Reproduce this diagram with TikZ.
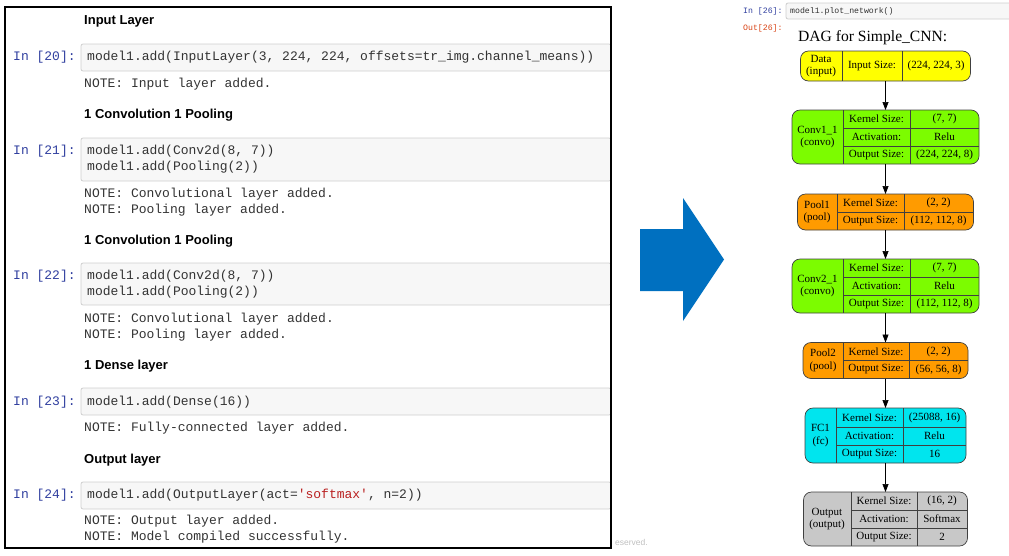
\documentclass[tikz,border=0pt]{standalone}
\usepackage{fontspec}
\usepackage{xcolor}
\usepackage{tikz}
\usetikzlibrary{arrows.meta}
\newfontfamily\codefont{Liberation Mono}[Ligatures=TeXOff]
\newfontfamily\headfont{Liberation Sans}
\newfontfamily\dagfont{Liberation Serif}
\definecolor{PromptBlue}{RGB}{48,63,159}
\definecolor{PromptRed}{RGB}{216,67,21}
\definecolor{CellFill}{RGB}{247,247,247}
\definecolor{CellLine}{RGB}{207,207,207}
\definecolor{StringRed}{RGB}{186,33,33}
\definecolor{ArrowBlue}{RGB}{0,112,192}
\definecolor{InputYellow}{RGB}{255,255,0}
\definecolor{ConvGreen}{RGB}{124,252,0}
\definecolor{PoolOrange}{RGB}{255,155,0}
\definecolor{DenseCyan}{RGB}{0,229,238}
\definecolor{OutputGray}{RGB}{200,200,200}

\begin{document}
\begin{tikzpicture}[x=1pt,y=-1pt,>={Triangle[length=8pt,width=6pt]},
  heading/.style={anchor=west,inner sep=0pt,text height=9.4pt,text depth=0pt,font=\fontsize{13}{15}\headfont\bfseries},
  prompt/.style={anchor=west,inner sep=0pt,text=PromptBlue,font=\fontsize{13}{16}\codefont},
  codeline/.style={anchor=west,inner sep=0pt,align=left,text=black!80,font=\fontsize{13}{16}\codefont},
  cellbox/.style={draw=CellLine,fill=CellFill,rounded corners=2pt,line width=0.8pt},
  layerbox/.style={draw=black!75,rounded corners=8pt,line width=0.7pt,inner sep=0pt,outer sep=0pt},
  grid/.style={draw=black!75,line width=0.6pt},
  field/.style={inner sep=0pt,align=center,font=\fontsize{11}{12.5}\dagfont}]
  \useasboundingbox (0,0) rectangle (1009,555);

  % notebook cells
  \draw[cellbox] (81,44) rectangle (611,71);
  \draw[cellbox] (81,138) rectangle (611,181);
  \draw[cellbox] (81,263) rectangle (611,305);
  \draw[cellbox] (81,388) rectangle (611,415);
  \draw[cellbox] (81,482) rectangle (611,509);
  \draw[line width=1.3pt] (5,7) rectangle (611,548);

  \node[heading] (h1) at (84,20) {Input Layer};
  \node[prompt] (p20) at (13,57.5) {In [20]:};
  \node[codeline] (c20) at (87,57.5) {model1.add(InputLayer(3, 224, 224, offsets=tr\_img.channel\_means))};
  \node[codeline] (n20) at (84,84.5) {NOTE: Input layer added.};

  \node[heading] (h2) at (84,114) {1 Convolution 1 Pooling};
  \node[prompt] (p21) at (13,151.5) {In [21]:};
  \node[codeline] (c21) at (87,159.5) {model1.add(Conv2d(8, 7))\\model1.add(Pooling(2))};
  \node[codeline] (n21) at (84,202.5) {NOTE: Convolutional layer added.\\NOTE: Pooling layer added.};

  \node[heading] (h3) at (84,240) {1 Convolution 1 Pooling};
  \node[prompt] (p22) at (13,276.5) {In [22]:};
  \node[codeline] (c22) at (87,284.5) {model1.add(Conv2d(8, 7))\\model1.add(Pooling(2))};
  \node[codeline] (n22) at (84,327.5) {NOTE: Convolutional layer added.\\NOTE: Pooling layer added.};

  \node[heading] (h4) at (84,365) {1 Dense layer};
  \node[prompt] (p23) at (13,402) {In [23]:};
  \node[codeline] (c23) at (87,402) {model1.add(Dense(16))};
  \node[codeline] (n23) at (84,428.5) {NOTE: Fully-connected layer added.};

  \node[heading] (h5) at (84,459) {Output layer};
  \node[prompt] (p24) at (13,495) {In [24]:};
  \node[codeline] (c24) at (87,495) {model1.add(OutputLayer(act=\textcolor{StringRed}{'softmax'}, n=2))};
  \node[codeline] (n24) at (84,529.5) {NOTE: Output layer added.\\NOTE: Model compiled successfully.};

  \node[anchor=west,inner sep=0pt,text=black!25,font=\fontsize{8.5}{10}\headfont] (rsv) at (615,542) {eserved.};

  % big arrow
  \fill[ArrowBlue] (640,229) -- (683,229) -- (683,198) -- (724,259.5) -- (683,321) -- (683,291) -- (640,291) -- cycle;

  % plot_network output
  \draw[cellbox] (786,3) rectangle (1015,19);
  \node[prompt,font=\fontsize{8.2}{10}\codefont] (p26) at (743,11) {In [26]:};
  \node[codeline,font=\fontsize{8.2}{10}\codefont] (c26) at (790,11) {model1.plot\_network()};
  \node[prompt,text=PromptRed,font=\fontsize{8.2}{10}\codefont] (o26) at (743,28) {Out[26]:};
  \node[anchor=west,inner sep=0pt,font=\fontsize{15.6}{18}\dagfont] (dag) at (798,38) {DAG for Simple\_CNN:};

  \node[layerbox,fill=InputYellow,minimum width=170pt,minimum height=30pt] (data) at (885.5,66) {};
  \draw[grid] (842,51) -- (842,81) (902,51) -- (902,81);
  \node[field] (dataname) at (821,66) {Data\\(input)};
  \node[field] (datakey) at (872,66) {Input Size:};
  \node[field] (dataval) at (936,66) {(224, 224, 3)};

  \node[layerbox,fill=ConvGreen,minimum width=187pt,minimum height=54pt] (conv1) at (885.5,137) {};
  \draw[grid] (843,110) -- (843,164) (910,110) -- (910,164) (843,128) -- (979,128) (843,146) -- (979,146);
  \node[field] (conv1name) at (817.5,137) {Conv1\_1\\(convo)};
  \node[field] (conv1k) at (876.5,119) {Kernel Size:};
  \node[field] (conv1kv) at (944.5,119) {(7, 7)};
  \node[field] (conv1a) at (876.5,137) {Activation:};
  \node[field] (conv1av) at (944.5,137) {Relu};
  \node[field] (conv1o) at (876.5,155) {Output Size:};
  \node[field] (conv1ov) at (944.5,155) {(224, 224, 8)};

  \node[layerbox,fill=PoolOrange,minimum width=176pt,minimum height=36pt] (pool1) at (885.5,212) {};
  \draw[grid] (837,194) -- (837,230) (904,194) -- (904,230) (837,212) -- (973.5,212);
  \node[field] (pool1name) at (817,212) {Pool1\\(pool)};
  \node[field] (pool1k) at (870.5,203) {Kernel Size:};
  \node[field] (pool1kv) at (938.5,203) {(2, 2)};
  \node[field] (pool1o) at (870.5,221) {Output Size:};
  \node[field] (pool1ov) at (938.5,221) {(112, 112, 8)};

  \node[layerbox,fill=ConvGreen,minimum width=187pt,minimum height=54pt] (conv2) at (885.5,286) {};
  \draw[grid] (843,259) -- (843,313) (910,259) -- (910,313) (843,277) -- (979,277) (843,295) -- (979,295);
  \node[field] (conv2name) at (817.5,286) {Conv2\_1\\(convo)};
  \node[field] (conv2k) at (876.5,268) {Kernel Size:};
  \node[field] (conv2kv) at (944.5,268) {(7, 7)};
  \node[field] (conv2a) at (876.5,286) {Activation:};
  \node[field] (conv2av) at (944.5,286) {Relu};
  \node[field] (conv2o) at (876.5,304) {Output Size:};
  \node[field] (conv2ov) at (944.5,304) {(112, 112, 8)};

  \node[layerbox,fill=PoolOrange,minimum width=165pt,minimum height=36pt] (pool2) at (885.5,360.5) {};
  \draw[grid] (843,342.5) -- (843,378.5) (909,342.5) -- (909,378.5) (843,360.5) -- (968,360.5);
  \node[field] (pool2name) at (823,360.5) {Pool2\\(pool)};
  \node[field] (pool2k) at (876,351.5) {Kernel Size:};
  \node[field] (pool2kv) at (938.5,351.5) {(2, 2)};
  \node[field] (pool2o) at (876,369.5) {Output Size:};
  \node[field] (pool2ov) at (938.5,369.5) {(56, 56, 8)};

  \node[layerbox,fill=DenseCyan,minimum width=161pt,minimum height=55pt] (fc1) at (885.5,435.5) {};
  \draw[grid] (836,408) -- (836,463) (903,408) -- (903,463) (836,427) -- (966,427) (836,445) -- (966,445);
  \node[field] (fc1name) at (820.5,435.5) {FC1\\(fc)};
  \node[field] (fc1k) at (869.5,417.5) {Kernel Size:};
  \node[field] (fc1kv) at (934.5,417.5) {(25088, 16)};
  \node[field] (fc1a) at (869.5,436) {Activation:};
  \node[field] (fc1av) at (934.5,436) {Relu};
  \node[field] (fc1o) at (869.5,454) {Output Size:};
  \node[field] (fc1ov) at (934.5,454) {16};

  \node[layerbox,fill=OutputGray,minimum width=164pt,minimum height=54pt] (output) at (885.5,519) {};
  \draw[grid] (851,492) -- (851,546) (917,492) -- (917,546) (851,510) -- (967.5,510) (851,528) -- (967.5,528);
  \node[field] (outname) at (827,519) {Output\\(output)};
  \node[field] (outk) at (884,501) {Kernel Size:};
  \node[field] (outkv) at (942,501) {(16, 2)};
  \node[field] (outa) at (884,519) {Activation:};
  \node[field] (outav) at (942,519) {Softmax};
  \node[field] (outo) at (884,537) {Output Size:};
  \node[field] (outov) at (942,537) {2};

  \draw[->,line width=0.7pt] (data) -- (conv1);
  \draw[->,line width=0.7pt] (conv1) -- (pool1);
  \draw[->,line width=0.7pt] (pool1) -- (conv2);
  \draw[->,line width=0.7pt] (conv2) -- (pool2);
  \draw[->,line width=0.7pt] (pool2) -- (fc1);
  \draw[->,line width=0.7pt] (fc1) -- (output);
\end{tikzpicture}
\end{document}
